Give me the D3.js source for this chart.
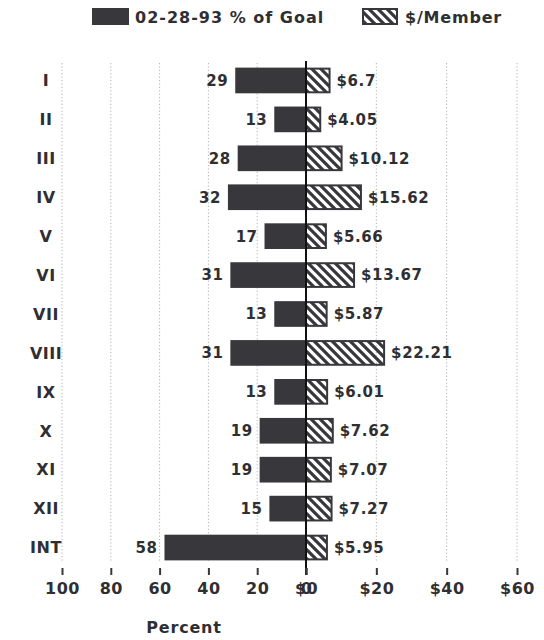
<!DOCTYPE html>
<html>
<head>
<meta charset="utf-8">
<script src="https://cdn.jsdelivr.net/npm/d3@7"></script>
<style>
  html, body { margin: 0; padding: 0; background: #fff; }
  svg { display: block; }
  text { font-family: "DejaVu Sans", sans-serif; font-weight: bold; fill: #2f2f33; }
</style>
</head>
<body>
<div id="chart"></div>
<script>
// Regions and their two measures
const regions = ["I", "II", "III", "IV", "V", "VI", "VII", "VIII", "IX", "X", "XI", "XII", "INT"];
const pctOfGoal = [29, 13, 28, 32, 17, 31, 13, 31, 13, 19, 19, 15, 58];
const perMember = [6.7, 4.05, 10.12, 15.62, 5.66, 13.67, 5.87, 22.21, 6.01, 7.62, 7.07, 7.27, 5.95];
const perMemberLabels = ["$6.7", "$4.05", "$10.12", "$15.62", "$5.66", "$13.67", "$5.87", "$22.21", "$6.01", "$7.62", "$7.07", "$7.27", "$5.95"];
const pctTicks = [100, 80, 60, 40, 20, 0];
const dollarTicks = [0, 20, 40, 60];
const legendLabels = ["02-28-93 % of Goal", "$/Member"];
const axisTitle = "Percent";

const W = 544, H = 640;
const ink = "#38383c";
const zeroX = 306;

const svg = d3.select("#chart").append("svg").attr("width", W).attr("height", H);

// Hatch used for the $/Member bars
const defs = svg.append("defs");
defs.append("pattern")
  .attr("id", "hatch")
  .attr("patternUnits", "userSpaceOnUse")
  .attr("width", 9).attr("height", 9)
  .append("path")
  .attr("d", "M-2,-2 L11,11 M-2,7 L2,11 M7,-2 L11,2")
  .attr("stroke", ink).attr("stroke-width", 3.2);

// Percent runs leftward from zero, dollars run rightward
const xPct = d3.scaleLinear().domain([0, 100]).range([zeroX, 62]);
const xDol = d3.scaleLinear().domain([0, 60]).range([zeroX, 517]);
const y = d3.scaleBand().domain(regions).range([61, 567]).paddingInner(0.34).paddingOuter(0.17);

const gridTop = 63, gridBottom = 562;

// Dotted vertical gridlines
const gridXs = pctTicks.filter(d => d !== 0).map(d => xPct(d)).concat(dollarTicks.filter(d => d !== 0).map(d => xDol(d)));
svg.append("g").selectAll("line").data(gridXs).join("line")
  .attr("x1", d => d).attr("x2", d => d)
  .attr("y1", gridTop).attr("y2", gridBottom)
  .attr("stroke", "#b0b0b0").attr("stroke-width", 1)
  .attr("stroke-dasharray", "1.2,2.2");

// Percent bars
svg.append("g").selectAll("rect").data(regions).join("rect")
  .attr("x", (d, i) => xPct(pctOfGoal[i]))
  .attr("y", d => y(d))
  .attr("width", (d, i) => zeroX - xPct(pctOfGoal[i]))
  .attr("height", y.bandwidth())
  .attr("fill", ink);

// $/Member bars
svg.append("g").selectAll("rect").data(regions).join("rect")
  .attr("x", zeroX)
  .attr("y", d => y(d) + 1)
  .attr("width", (d, i) => xDol(perMember[i]) - zeroX)
  .attr("height", y.bandwidth() - 2)
  .attr("fill", "url(#hatch)")
  .attr("stroke", ink).attr("stroke-width", 2);

// Value labels
svg.append("g").selectAll("text").data(regions).join("text")
  .attr("x", (d, i) => xPct(pctOfGoal[i]) - 7)
  .attr("y", d => y(d) + y.bandwidth() / 2)
  .attr("dy", "0.36em")
  .attr("text-anchor", "end")
  .attr("font-size", 15)
  .attr("letter-spacing", 0.5)
  .text((d, i) => pctOfGoal[i]);

svg.append("g").selectAll("text").data(regions).join("text")
  .attr("x", (d, i) => xDol(perMember[i]) + 7)
  .attr("y", d => y(d) + y.bandwidth() / 2)
  .attr("dy", "0.36em")
  .attr("text-anchor", "start")
  .attr("font-size", 15)
  .attr("letter-spacing", 0.6)
  .text((d, i) => perMemberLabels[i]);

// Region names
svg.append("g").selectAll("text").data(regions).join("text")
  .attr("x", 46)
  .attr("y", d => y(d) + y.bandwidth() / 2)
  .attr("dy", "0.36em")
  .attr("text-anchor", "middle")
  .attr("font-size", 16)
  .attr("letter-spacing", 0.5)
  .text(d => d);

// Zero line
svg.append("line")
  .attr("x1", zeroX).attr("x2", zeroX)
  .attr("y1", 61).attr("y2", 575)
  .attr("stroke", "#111").attr("stroke-width", 2);

// Bottom axes: percent to the left, dollars to the right
const pctAxis = d3.axisBottom(xPct).tickValues(pctTicks).tickSize(7).tickPadding(8).tickFormat(d3.format("d"));
const dolAxis = d3.axisBottom(xDol).tickValues(dollarTicks).tickSize(7).tickPadding(8).tickFormat(d => "$" + d);

[pctAxis, dolAxis].forEach(ax => {
  const g = svg.append("g").attr("transform", "translate(0,568)").call(ax);
  g.select(".domain").remove();
  g.selectAll(".tick line").attr("stroke", ink).attr("stroke-width", 2);
  g.selectAll(".tick text").attr("font-size", 16).attr("fill", "#2f2f33")
    .attr("letter-spacing", 0.5)
    .attr("font-family", "DejaVu Sans, sans-serif").attr("font-weight", "bold");
});

svg.append("text")
  .attr("x", 184).attr("y", 633)
  .attr("text-anchor", "middle")
  .attr("font-size", 16)
  .attr("letter-spacing", 0.8)
  .text(axisTitle);

// Legend
const legend = svg.append("g");
legend.append("rect").attr("x", 92).attr("y", 8).attr("width", 37).attr("height", 17).attr("fill", ink);
legend.append("text").attr("x", 135).attr("y", 17).attr("dy", "0.36em").attr("font-size", 16)
  .attr("letter-spacing", 1).text(legendLabels[0]);
legend.append("rect").attr("x", 363).attr("y", 9).attr("width", 34).attr("height", 15)
  .attr("fill", "url(#hatch)").attr("stroke", ink).attr("stroke-width", 2);
legend.append("text").attr("x", 405).attr("y", 17).attr("dy", "0.36em").attr("font-size", 16)
  .attr("letter-spacing", 0.8).text(legendLabels[1]);
</script>
</body>
</html>
